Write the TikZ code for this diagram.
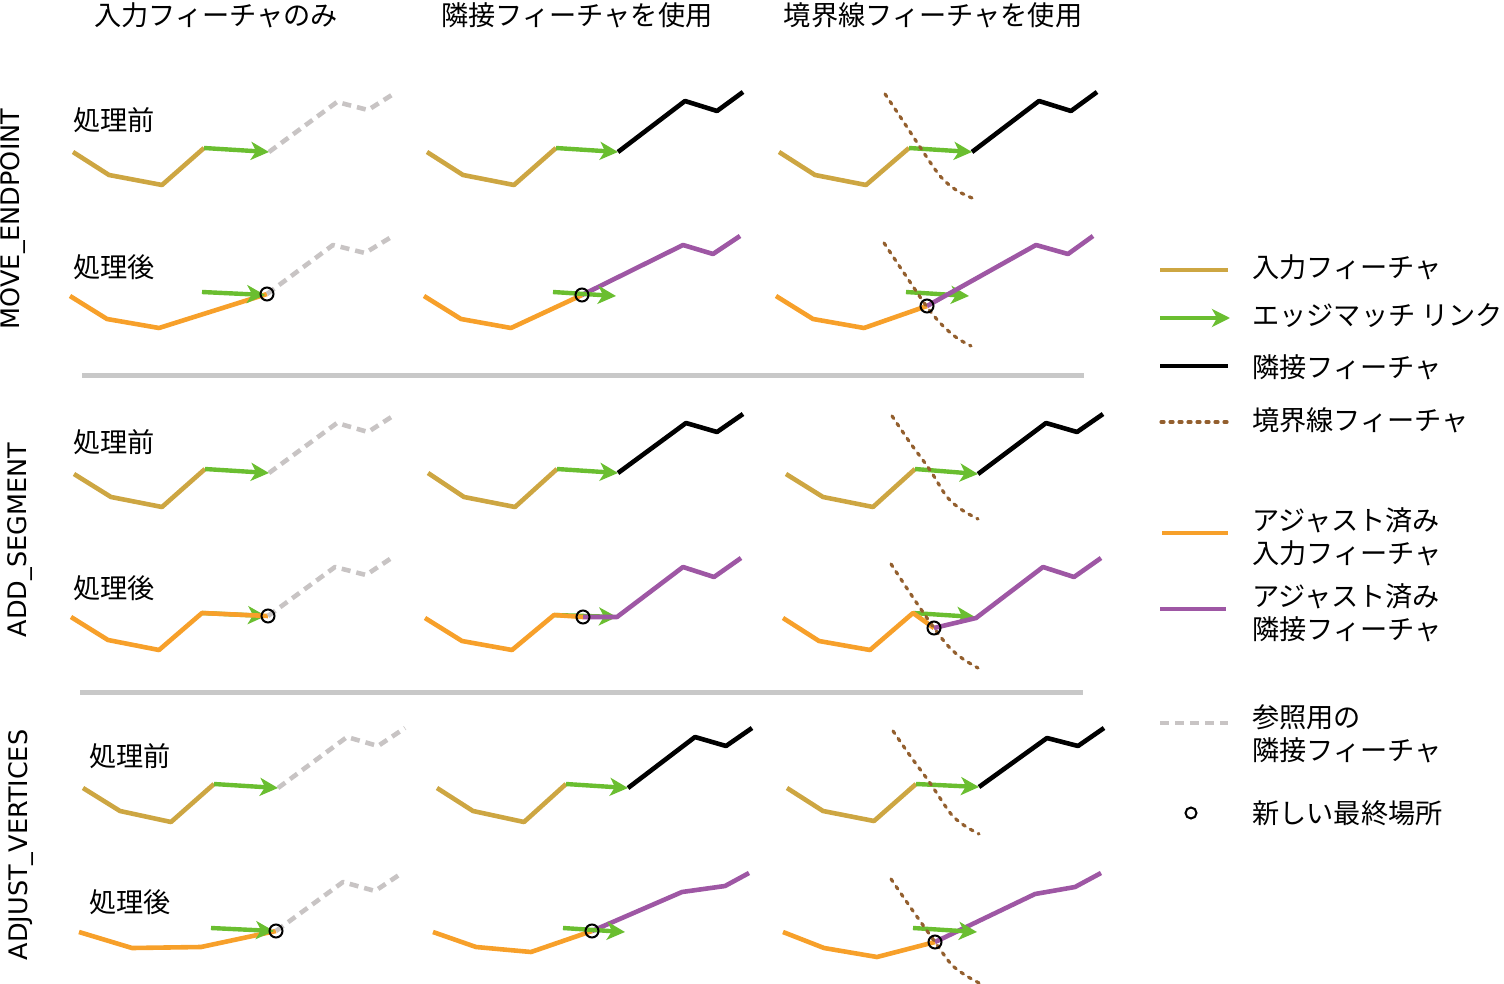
\documentclass[tikz,border=0pt]{standalone}
\usepackage{fontspec}
\setmainfont{Noto Sans CJK JP}
\newfontfamily\latinf{DejaVu Sans}
\usetikzlibrary{arrows.meta}
\definecolor{tanc}{RGB}{205,166,66}
\definecolor{linkc}{RGB}{106,190,48}
\definecolor{orc}{RGB}{247,160,42}
\definecolor{purc}{RGB}{158,87,164}
\definecolor{brc}{RGB}{147,95,46}
\definecolor{refc}{RGB}{200,196,196}
\definecolor{sepc}{RGB}{200,200,200}
\tikzset{
  inputline/.style={draw=tanc,line width=4.6pt,line join=round},
  adjin/.style={draw=orc,line width=4.6pt,line join=round},
  adjnb/.style={draw=purc,line width=4.6pt,line join=round},
  nbline/.style={draw=black,line width=4.6pt,line join=round},
  refline/.style={draw=refc,line width=4.6pt,dash pattern=on 9pt off 6pt,line join=round},
  bndline/.style={draw=brc,line width=3.2pt,dash pattern=on 3pt off 6pt,line cap=round},
  linkarrow/.style={draw=linkc,line width=4.4pt,-{Stealth[length=18pt,width=18pt,inset=5pt]}},
  newend/.style={draw=black,line width=2pt,fill=none},
  jp/.style={inner sep=0pt,font=\fontsize{27.2}{33}\selectfont},
  lgd/.style={jp,anchor=west,align=left},
  rowlab/.style={inner sep=0pt,rotate=90,font=\latinf\fontsize{25.5}{30}\selectfont},
  sep/.style={draw=sepc,line width=5pt}
}
\begin{document}
\begin{tikzpicture}[x=1pt,y=-1pt]
\useasboundingbox (0,0) rectangle (1504,984);

% column titles
\node[jp] (t1) at (216,15) {入力フィーチャのみ};
\node[jp] (t2) at (577,15) {隣接フィーチャを使用};
\node[jp] (t3) at (933,15) {境界線フィーチャを使用};

% row labels
\node[rowlab] (r1) at (13,219) {MOVE\_ENDPOINT};
\node[rowlab] (r2) at (20,540) {ADD\_SEGMENT};
\node[rowlab] (r3) at (21,845) {ADJUST\_VERTICES};

% before/after labels
\node[jp] (b1) at (114,120) {処理前};
\node[jp] (a1) at (114,267) {処理後};
\node[jp] (b2) at (114,442) {処理前};
\node[jp] (a2) at (114,588) {処理後};
\node[jp] (b3) at (130,756) {処理前};
\node[jp] (a3) at (130,902) {処理後};

% separators
\coordinate (s1a) at (82,375); \coordinate (s1b) at (1084,375);
\coordinate (s2a) at (80,692); \coordinate (s2b) at (1083,692);
\draw[sep] (s1a) -- (s1b);
\draw[sep] (s2a) -- (s2b);

% ===== Row 1: MOVE_ENDPOINT =====
% col1 before
\coordinate (p1aS) at (204,148); \coordinate (p1aE) at (269,152);
\draw[inputline] (73,152) -- (109,175) -- (162,185) -- (p1aS);
\draw[refline] (p1aE) -- (337,102) -- (368,110) -- (395,93);
\draw[linkarrow] (p1aS) -- (p1aE);
% col1 after
\coordinate (p1bC) at (267,294); \coordinate (p1bS) at (202,292); \coordinate (p1bE) at (265,295);
\draw[adjin] (70,296) -- (107,319) -- (159,328) -- (p1bC);
\draw[refline] (p1bC) -- (333,245) -- (365,253) -- (393,236);
\draw[linkarrow] (p1bS) -- (p1bE);
\draw[newend] (p1bC) circle (6.5pt);
% col2 before
\coordinate (p1cS) at (556,148); \coordinate (p1cE) at (618,152);
\draw[inputline] (427,152) -- (463,175) -- (514,185) -- (p1cS);
\draw[nbline] (p1cE) -- (685,101) -- (717,111) -- (743,92);
\draw[linkarrow] (p1cS) -- (p1cE);
% col2 after
\coordinate (p1dC) at (582,295); \coordinate (p1dS) at (553,292); \coordinate (p1dE) at (616,296);
\draw[adjin] (424,296) -- (461,319) -- (511,328) -- (p1dC);
\draw[adjnb] (p1dC) -- (683,245) -- (713,254) -- (740,236);
\draw[linkarrow] (p1dS) -- (p1dE);
\draw[newend] (p1dC) circle (6.5pt);
% col3 before
\coordinate (p1eS) at (909,148); \coordinate (p1eE) at (972,152);
\draw[inputline] (779,152) -- (815,175) -- (866,185) -- (p1eS);
\draw[nbline] (p1eE) -- (1039,101) -- (1071,111) -- (1097,92);
\draw[linkarrow] (p1eS) -- (p1eE);
\draw[bndline] plot[smooth] coordinates {(885,94) (903,121) (920,147) (940,176) (956,190) (972,198)};
% col3 after
\coordinate (p1fC) at (927,306); \coordinate (p1fS) at (906,292); \coordinate (p1fE) at (969,296);
\draw[linkarrow] (p1fS) -- (p1fE);
\draw[adjin] (776,296) -- (813,319) -- (864,328) -- (p1fC);
\draw[adjnb] (p1fC) -- (1036,245) -- (1068,254) -- (1093,236);
\draw[bndline] plot[smooth] coordinates {(884,243) (906,276) (927,307) (942,325) (957,338) (971,346)};
\draw[newend] (p1fC) circle (6.5pt);

% ===== Row 2: ADD_SEGMENT =====
% col1 before
\coordinate (p2aS) at (205,469); \coordinate (p2aE) at (269,473);
\draw[inputline] (74,474) -- (111,497) -- (162,507) -- (p2aS);
\draw[refline] (p2aE) -- (337,423) -- (368,432) -- (396,414);
\draw[linkarrow] (p2aS) -- (p2aE);
% col1 after
\coordinate (p2bC) at (268,616); \coordinate (p2bS) at (202,613); \coordinate (p2bE) at (266,616);
\draw[linkarrow] (p2bS) -- (p2bE);
\draw[adjin] (71,617) -- (108,640) -- (159,650) -- (p2bS) -- (p2bC);
\draw[refline] (p2bC) -- (335,567) -- (366,575) -- (393,557);
\draw[newend] (p2bC) circle (6.5pt);
% col2 before
\coordinate (p2cS) at (557,469); \coordinate (p2cE) at (618,473);
\draw[inputline] (428,473) -- (464,497) -- (515,507) -- (p2cS);
\draw[nbline] (p2cE) -- (686,423) -- (717,432) -- (743,414);
\draw[linkarrow] (p2cS) -- (p2cE);
% col2 after
\coordinate (p2dC) at (583,617); \coordinate (p2dS) at (554,615); \coordinate (p2dE) at (617,617);
\draw[linkarrow] (p2dS) -- (p2dE);
\draw[adjin] (425,618) -- (462,641) -- (512,650) -- (p2dS) -- (p2dC);
\draw[adjnb] (p2dC) -- (p2dE) -- (683,567) -- (714,577) -- (741,558);
\draw[newend] (p2dC) circle (6.5pt);
% col3 before
\coordinate (p2eS) at (915,469); \coordinate (p2eE) at (978,474);
\draw[inputline] (786,474) -- (823,497) -- (873,507) -- (p2eS);
\draw[nbline] (p2eE) -- (1046,423) -- (1077,432) -- (1103,414);
\draw[linkarrow] (p2eS) -- (p2eE);
\draw[bndline] plot[smooth] coordinates {(892,416) (911,444) (930,470) (947,497) (962,510) (978,519)};
% col3 after
\coordinate (p2fC) at (934,628); \coordinate (p2fS) at (913,613); \coordinate (p2fE) at (975,617);
\draw[linkarrow] (p2fS) -- (p2fE);
\draw[adjin] (783,618) -- (819,641) -- (870,650) -- (p2fS) -- (p2fC);
\draw[adjnb] (p2fC) -- (976,618) -- (1043,567) -- (1074,577) -- (1101,558);
\draw[bndline] plot[smooth] coordinates {(891,564) (912,596) (934,628) (949,647) (963,659) (978,668)};
\draw[newend] (p2fC) circle (6.5pt);

% ===== Row 3: ADJUST_VERTICES =====
% col1 before
\coordinate (p3aS) at (214,784); \coordinate (p3aE) at (278,788);
\draw[inputline] (83,788) -- (120,811) -- (171,822) -- (p3aS);
\draw[refline] (p3aE) -- (347,737) -- (378,746) -- (405,728);
\draw[linkarrow] (p3aS) -- (p3aE);
% col1 after
\coordinate (p3bC) at (276,931); \coordinate (p3bS) at (211,928); \coordinate (p3bE) at (274,931);
\draw[adjin] (79,932) -- (132,948) -- (201,947) -- (p3bC);
\draw[refline] (p3bC) -- (343,882) -- (375,891) -- (402,873);
\draw[linkarrow] (p3bS) -- (p3bE);
\draw[newend] (p3bC) circle (6.5pt);
% col2 before
\coordinate (p3cS) at (566,784); \coordinate (p3cE) at (628,788);
\draw[inputline] (437,788) -- (473,811) -- (524,822) -- (p3cS);
\draw[nbline] (p3cE) -- (695,737) -- (726,746) -- (752,728);
\draw[linkarrow] (p3cS) -- (p3cE);
% col2 after
\coordinate (p3dC) at (592,931); \coordinate (p3dS) at (563,928); \coordinate (p3dE) at (625,932);
\draw[adjin] (433,932) -- (476,947) -- (531,952) -- (p3dC);
\draw[adjnb] (p3dC) -- (682,892) -- (725,886) -- (749,873);
\draw[linkarrow] (p3dS) -- (p3dE);
\draw[newend] (p3dC) circle (6.5pt);
% col3 before
\coordinate (p3eS) at (916,784); \coordinate (p3eE) at (979,787);
\draw[inputline] (787,788) -- (823,811) -- (874,821) -- (p3eS);
\draw[nbline] (p3eE) -- (1047,738) -- (1078,746) -- (1104,728);
\draw[linkarrow] (p3eS) -- (p3eE);
\draw[bndline] plot[smooth] coordinates {(893,731) (911,757) (930,783) (951,814) (965,826) (979,834)};
% col3 after
\coordinate (p3fC) at (935,942); \coordinate (p3fS) at (913,928); \coordinate (p3fE) at (977,932);
\draw[adjin] (783,932) -- (824,948) -- (877,957) -- (p3fC);
\draw[adjnb] (p3fC) -- (1035,894) -- (1075,887) -- (1101,873);
\draw[linkarrow] (p3fS) -- (p3fE);
\draw[bndline] plot[smooth] coordinates {(891,879) (913,911) (935,942) (951,964) (965,975) (979,983)};
\draw[newend] (p3fC) circle (6.5pt);

% ===== Legend =====
\coordinate (l1a) at (1160,270); \coordinate (l1b) at (1228,270);
\draw[inputline] (l1a) -- (l1b);
\node[lgd] (lt1) at (1252,267) {入力フィーチャ};
\coordinate (l2a) at (1160,318); \coordinate (l2b) at (1230,318);
\draw[linkarrow] (l2a) -- (l2b);
\node[lgd] (lt2) at (1252,316) {エッジマッチ リンク};
\coordinate (l3a) at (1160,366); \coordinate (l3b) at (1228,366);
\draw[nbline] (l3a) -- (l3b);
\node[lgd] (lt3) at (1252,367) {隣接フィーチャ};
\coordinate (l4a) at (1161,422); \coordinate (l4b) at (1228,422);
\draw[bndline] (l4a) -- (l4b);
\node[lgd] (lt4) at (1252,420) {境界線フィーチャ};
\coordinate (l5a) at (1162,533); \coordinate (l5b) at (1228,533);
\draw[adjin] (l5a) -- (l5b);
\node[lgd] (lt5) at (1252,537) {アジャスト済み\\入力フィーチャ};
\coordinate (l6a) at (1160,609); \coordinate (l6b) at (1226,609);
\draw[adjnb] (l6a) -- (l6b);
\node[lgd] (lt6) at (1252,613) {アジャスト済み\\隣接フィーチャ};
\coordinate (l7a) at (1160,723); \coordinate (l7b) at (1228,723);
\draw[refline] (l7a) -- (l7b);
\node[lgd] (lt7) at (1252,734) {参照用の\\隣接フィーチャ};
\coordinate (l8) at (1191,813);
\draw[newend] (l8) circle (5.5pt);
\node[lgd] (lt8) at (1252,813) {新しい最終場所};
\end{tikzpicture}
\end{document}
